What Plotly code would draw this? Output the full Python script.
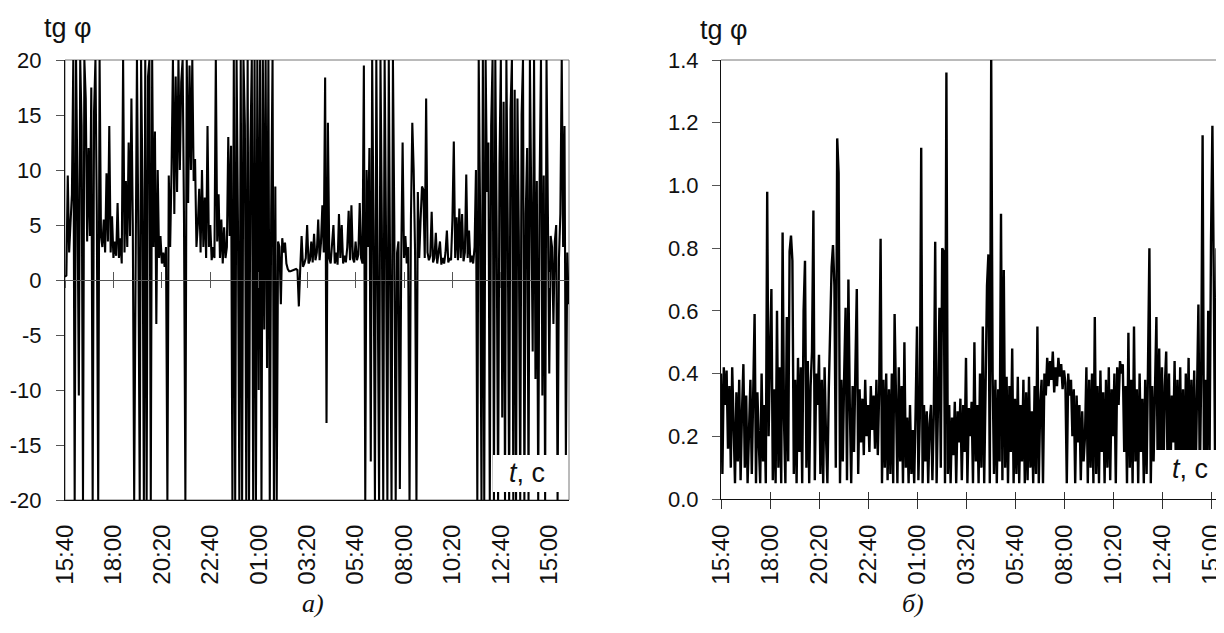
import plotly.graph_objects as go

# ---------------- data ----------------
time_labels = ["15:40", "18:00", "20:20", "22:40", "01:00", "03:20",
               "05:40", "08:00", "10:20", "12:40", "15:00"]
label_minutes = [0, 140, 280, 420, 560, 700, 840, 980, 1120, 1260, 1400]
step_minutes = 4  # sampling step of both records, minutes from 15:40

# panel a) tg phi, clipped to [-20, 20]
tg_a = [
    0.3, 0.4, 9.5, 2.5, 5.2, 7.8, 20, -20, 20, 8.5,
    -10.5, 20, 14, -20, 20, 16.5, 3.5, 12, 4, 17.5,
    -20, 15.3, 20, 6, -20, 20, 4, 3, 5.5, 2.5,
    9.7, 3.5, 14, 2.5, 5.8, 2, 3.5, 2.2, 7, 2,
    3.8, 1.5, 20, 2.5, 9, 3, 12.5, 4, 16.5, 5,
    -20, 5.5, 20, 4, -20, 20, 8, -20, 20, -20,
    18.5, 20, -20, 20, 3, 13.5, -4, 10, 2, 4,
    1.5, 2.5, 1.2, 3, -20, 9.5, 3, 10, 20, 6,
    18.5, 8, 20, 10, 18, 20, 5.5, -20, 20, 7,
    19.5, 10, 20, 9, 11, 3, 5, 8.3, 2.5, 10,
    3, 7.5, 2, 14, 3, 5, 1.8, 3, 2, 20,
    3.5, 7.8, 2, 5.5, 1.5, 4.8, 2, 3, 13, 4,
    12.2, -20, 20, -20, 20, 5, -20, 20, -20, 20,
    14, -20, 20, -20, 12, 20, -20, 20, -20, 20,
    -10, 20, -20, 20, -4.5, 20, -8, 20, -20, 6,
    20, -20, 8.5, -20, 3.5, 3, -2.2, 3.8, 2.5, 3.4,
    1.5, 1.0, 0.8, 0.8, 0.85, 0.9, 0.9, 1.0, 0.9, -2.4,
    1.0, 4, 1.2, 1.5, 2, 5, 1.5, 1.8, 3.5, 1.6,
    4.2, 1.8, 2.5, 5.5, 1.8, 3.4, 6.8, 2.5, 18.4, -13,
    14.3, 2, 1.5, 3, 5, 1.5, 2.5, 1.4, 6, 2,
    5, 1.5, 2.2, 1.6, 3, 6.3, 1.8, 6.8, 2, 1.6,
    3.5, 1.8, 2.3, 7, 2, 1.5, 19.5, -20, 10, 3,
    12, -16.5, 20, 4, -20, 20, 3.5, -20, 20, 5,
    -20, 20, 4, -20, 20, 3, -20, 20, 5, -20,
    2.5, 3.5, -19, 2, 12.5, 2, 4, 1.5, 3, -20,
    5.5, 14.3, 10, 2.5, -20, 8, 2, 5.5, 8.5, 8.2,
    2, 16.5, 2.5, 1.8, 2.2, 6.2, 1.6, 2, 4.3, 1.5,
    2.3, 3.5, 1.4, 2, 1.5, 2.5, 4.5, 1.6, 2, 1.8,
    5.5, 12.6, 2, 5.7, 1.8, 6.5, 2, 6, 1.7, 2.5,
    9.6, 2, 4.5, 1.6, 2.2, 1.5, 3, 10, -20, 20,
    6, -20, 20, -20, 20, 8, 12.5, -20, 14, 20,
    -20, 20, 4, -20, 10.6, 20, -12.5, 16.2, -20, 20,
    5, -20, 15.5, 20, -20, 17.3, -20, 16.5, 4, -20,
    15, 20, -20, 6, 12, -20, 20, 3.5, -6.5, 20,
    -9, 9, -20, 8.5, 20, -10.5, 9.5, -20, 20, 6,
    -8.5, 4, 3, -4, 3.5, 5, -20, 2, 6, 20,
    3, 14, -16, 2.5, -2.2,
]

# panel б) tg phi
tg_b = [
    0.40, 0.08, 0.42, 0.30, 0.41, 0.16, 0.36, 0.10, 0.42, 0.22,
    0.05, 0.34, 0.12, 0.38, 0.06, 0.28, 0.43, 0.10, 0.33, 0.05,
    0.25, 0.38, 0.08, 0.30, 0.59, 0.05, 0.34, 0.18, 0.05, 0.40,
    0.12, 0.30, 0.05, 0.98, 0.20, 0.45, 0.67, 0.06, 0.35, 0.05,
    0.60, 0.10, 0.42, 0.05, 0.85, 0.25, 0.05, 0.58, 0.12, 0.79,
    0.84, 0.76, 0.08, 0.38, 0.05, 0.45, 0.15, 0.42, 0.05, 0.60,
    0.76, 0.10, 0.44, 0.05, 0.36, 0.47, 0.92, 0.06, 0.40, 0.30,
    0.46, 0.08, 0.38, 0.05, 0.42, 0.20, 0.05, 0.35, 0.58, 0.74,
    0.81, 0.68, 0.10, 1.15, 1.04, 0.05, 0.38, 0.12, 0.40, 0.61,
    0.06, 0.70, 0.30, 0.05, 0.36, 0.15, 0.42, 0.67, 0.08, 0.35,
    0.18, 0.32, 0.14, 0.38, 0.20, 0.30, 0.15, 0.36, 0.22, 0.33,
    0.16, 0.38, 0.14, 0.35, 0.83, 0.05, 0.38, 0.10, 0.40, 0.06,
    0.35, 0.08, 0.40, 0.05, 0.59, 0.30, 0.05, 0.42, 0.12, 0.36,
    0.05, 0.50, 0.10, 0.26, 0.05, 0.30, 0.08, 0.22, 0.05, 0.28,
    0.55, 0.06, 0.26, 1.12, 0.05, 0.30, 0.12, 0.28, 0.05, 0.24,
    0.30, 0.06, 0.27, 0.82, 0.05, 0.30, 0.61, 0.10, 0.80, 0.79,
    0.05, 1.36, 0.08, 0.30, 0.05, 0.26, 0.14, 0.31, 0.05, 0.28,
    0.18, 0.32, 0.06, 0.30, 0.15, 0.45, 0.05, 0.29, 0.20, 0.31,
    0.05, 0.50, 0.12, 0.30, 0.05, 0.40, 0.10, 0.55, 0.05, 0.36,
    0.68, 0.78, 0.05, 1.40, 0.40, 0.08, 0.38, 0.05, 0.35, 0.12,
    0.91, 0.06, 0.73, 0.10, 0.39, 0.05, 0.36, 0.15, 0.48, 0.05,
    0.32, 0.08, 0.39, 0.05, 0.30, 0.12, 0.38, 0.05, 0.34, 0.06,
    0.39, 0.10, 0.28, 0.05, 0.36, 0.08, 0.55, 0.05, 0.30, 0.38,
    0.05, 0.40, 0.33, 0.45, 0.36, 0.44, 0.38, 0.47, 0.34, 0.42,
    0.36, 0.45, 0.39, 0.43, 0.35, 0.41, 0.37, 0.05, 0.40, 0.33,
    0.38, 0.20, 0.35, 0.05, 0.33, 0.18, 0.30, 0.06, 0.28, 0.12,
    0.20, 0.42, 0.05, 0.38, 0.10, 0.40, 0.05, 0.58, 0.08, 0.36,
    0.05, 0.41, 0.15, 0.34, 0.05, 0.38, 0.10, 0.42, 0.06, 0.35,
    0.20, 0.40, 0.05, 0.42, 0.30, 0.44, 0.40, 0.43, 0.15, 0.36,
    0.05, 0.53, 0.10, 0.38, 0.05, 0.55, 0.12, 0.35, 0.05, 0.40,
    0.15, 0.32, 0.05, 0.38, 0.08, 0.42, 0.80, 0.05, 0.36, 0.12,
    0.40, 0.58, 0.05, 0.48, 0.10, 0.42, 0.05, 0.36, 0.47, 0.08,
    0.40, 0.05, 0.33, 0.18, 0.44, 0.05, 0.38, 0.10, 0.42, 0.06,
    0.35, 0.05, 0.40, 0.15, 0.45, 0.05, 0.38, 0.12, 0.41, 0.05,
    0.33, 0.62, 0.05, 0.40, 1.16, 0.10, 0.38, 0.05, 0.60, 0.15,
    0.82, 1.19, 0.69, 0.05, 0.80, 0.20, 1.28, 0.99, 1.40, 0.30,
]

a_ticks = [-20, -15, -10, -5, 0, 5, 10, 15, 20]
a_ticktext = ["-20", "-15", "-10", "-5", "0", "5", "10", "15", "20"]
b_ticks = [0.0, 0.2, 0.4, 0.6, 0.8, 1.0, 1.2, 1.4]
b_ticktext = ["0.0", "0.2", "0.4", "0.6", "0.8", "1.0", "1.2", "1.4"]

t_a = [i * step_minutes for i in range(len(tg_a))]
t_b = [i * step_minutes for i in range(len(tg_b))]

# ---------------- layout helpers ----------------
W, H = 1224, 633
OX, OY = 8, 8  # page body margin of the html page


def fx(p):
    return (p - OX) / W


def fy(p):
    return 1 - (p - OY) / H


SANS = "Liberation Sans, Arial, sans-serif"
SERIF = "Liberation Serif, Times New Roman, serif"
ytickfont = dict(family=SANS, size=22, color="#111")
xtickfont = dict(family=SANS, size=24, color="#111")
a_xrange = [0, 1457]
b_xrange = [0, 1460]
zero_pos = fy(280)

fig = go.Figure()
fig.add_trace(go.Scatter(x=t_a, y=tg_a, mode="lines",
                         line=dict(color="black", width=2.1),
                         xaxis="x", yaxis="y", hoverinfo="skip", showlegend=False))
fig.add_trace(go.Scatter(x=t_b, y=tg_b, mode="lines",
                         line=dict(color="black", width=2.4),
                         xaxis="x2", yaxis="y2", hoverinfo="skip", showlegend=False))
# empty traces so that the overlay tick axes are drawn
for xa, ya in (("x3", "y"), ("x4", "y"), ("x5", "y2")):
    fig.add_trace(go.Scatter(x=[], y=[], xaxis=xa, yaxis=ya, showlegend=False,
                             hoverinfo="skip"))

common_x = dict(tickmode="array", tickvals=label_minutes, showgrid=False,
                zeroline=False, fixedrange=True, automargin=False)

fig.update_layout(
    template="none",
    width=W, height=H, margin=dict(l=0, r=0, t=0, b=0, pad=0), autosize=False,
    paper_bgcolor="white", plot_bgcolor="white", showlegend=False,
    xaxis=dict(domain=[fx(65), fx(569)], range=a_xrange, anchor="y",
               ticktext=time_labels, tickangle=-90, ticks="",
               showline=True, linecolor="#111", linewidth=1,
               tickfont=xtickfont, ticklabelstandoff=14, **common_x),
    yaxis=dict(domain=[fy(500), fy(60)], range=[-20, 20], anchor="x",
               tickmode="array", tickvals=a_ticks, ticktext=a_ticktext,
               ticks="outside", ticklen=8, tickcolor="#555", tickwidth=1,
               showline=True, linecolor="#111", linewidth=1,
               showgrid=False, zeroline=False, tickfont=ytickfont,
               ticklabelstandoff=10, automargin=False, fixedrange=True),
    xaxis3=dict(overlaying="x", anchor="free", position=zero_pos,
                range=a_xrange, ticks="outside", ticklen=7, tickcolor="#555",
                showticklabels=False, showline=True, linecolor="#555",
                linewidth=1, **common_x),
    xaxis4=dict(overlaying="x", anchor="free", position=zero_pos,
                range=a_xrange, ticks="inside", ticklen=8, tickcolor="#555",
                showticklabels=False, showline=False, **common_x),
    xaxis2=dict(domain=[fx(721), 1.0], range=b_xrange, anchor="y2",
                ticktext=time_labels, tickangle=-90, ticks="outside",
                ticklen=9, tickcolor="#333", tickwidth=1,
                showline=True, linecolor="#111", linewidth=1,
                tickfont=xtickfont, ticklabelstandoff=6, **common_x),
    yaxis2=dict(domain=[fy(499), fy(60)], range=[0, 1.4], anchor="x2",
                tickmode="array", tickvals=b_ticks, ticktext=b_ticktext,
                ticks="outside", ticklen=8, tickcolor="#555", tickwidth=1,
                showline=True, linecolor="#111", linewidth=1,
                showgrid=False, zeroline=False, tickfont=ytickfont,
                ticklabelstandoff=9, automargin=False, fixedrange=True),
    xaxis5=dict(overlaying="x2", anchor="y2", range=b_xrange, ticks="inside",
                ticklen=7, tickcolor="#333", showticklabels=False,
                showline=False, **common_x),
)

# frames (top / right) of the plot areas
fig.add_shape(type="rect", xref="x domain", yref="y domain", x0=0, x1=1, y0=0, y1=1,
              line=dict(color="#777", width=1), layer="below")
fig.add_shape(type="line", xref="x2 domain", yref="y2 domain", x0=0, x1=1, y0=1, y1=1,
              line=dict(color="#777", width=1), layer="below")

# white label boxes for the axis name
for x0, x1, y0, y1 in ((493, 567, 455, 492), (1156, 1226, 450, 487)):
    fig.add_shape(type="rect", xref="paper", yref="paper",
                  x0=fx(x0), x1=fx(x1), y0=fy(y1), y1=fy(y0),
                  fillcolor="white", line=dict(width=0), layer="above")

ann_font = dict(family=SANS, size=27, color="#111")
fig.add_annotation(x=fx(42), y=fy(28), xref="paper", yref="paper", text="tg φ",
                   showarrow=False, xanchor="left", yanchor="middle", font=ann_font)
fig.add_annotation(x=fx(698), y=fy(30), xref="paper", yref="paper", text="tg φ",
                   showarrow=False, xanchor="left", yanchor="middle", font=ann_font)
tc_font = dict(family=SANS, size=27, color="#111")
fig.add_annotation(x=fx(527), y=fy(473), xref="paper", yref="paper",
                   text="<i>t</i>, c", showarrow=False, xanchor="center",
                   yanchor="middle", font=tc_font)
fig.add_annotation(x=fx(1190), y=fy(469), xref="paper", yref="paper",
                   text="<i>t</i>, c", showarrow=False, xanchor="center",
                   yanchor="middle", font=tc_font)
cap_font = dict(family=SERIF, size=26, color="#111")
fig.add_annotation(x=fx(313), y=fy(603), xref="paper", yref="paper",
                   text="<i>а)</i>", showarrow=False, xanchor="center",
                   yanchor="middle", font=cap_font)
fig.add_annotation(x=fx(913), y=fy(603), xref="paper", yref="paper",
                   text="<i>б)</i>", showarrow=False, xanchor="center",
                   yanchor="middle", font=cap_font)

fig.write_html("out.html", config={"displayModeBar": False})
